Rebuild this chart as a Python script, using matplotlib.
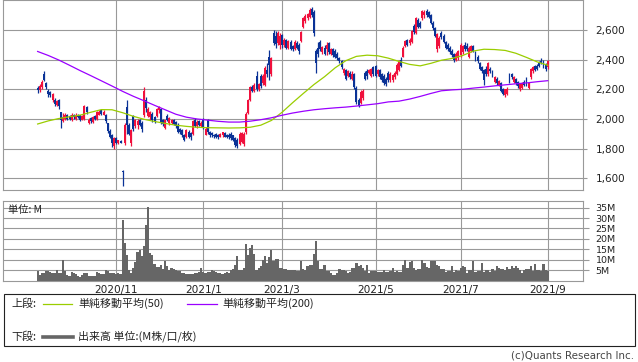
import matplotlib
matplotlib.use("Agg")
import matplotlib.pyplot as plt
import numpy as np
import pandas as pd
from matplotlib.lines import Line2D
from matplotlib.patches import Rectangle

# ---------------- data ----------------
open_ = [
 2210,2195,2215,2300,2240,2190,2180,2125,2130,2095,2125,2045,1985,2000,2025,2020,1990,2030,2000,2030,
 2025,1995,2000,2080,1975,2005,1980,2020,2000,2030,2060,2030,2030,1970,1920,1890,1820,1870,1835,1850,
 1650,1835,2080,1960,1840,2020,1950,1960,1990,1975,2030,2130,2020,2010,2035,2010,2020,2060,2065,1990,
 1940,2020,1970,1975,1995,1980,1960,1935,1925,1890,1875,1915,1905,1900,1990,1950,1985,1955,1990,1895,
 1990,1915,1905,1895,1900,1895,1880,1890,1905,1890,1895,1900,1890,1870,1860,1830,1845,1830,1910,2040,
 2130,2215,2190,2290,2200,2290,2240,2230,2330,2420,2300,2580,2560,2510,2500,2565,2500,2530,2480,2520,
 2490,2470,2515,2500,2525,2620,2660,2680,2690,2740,2720,2460,2480,2520,2450,2480,2470,2510,2440,2470,
 2460,2440,2410,2390,2310,2330,2290,2310,2270,2300,2210,2130,2110,2140,2310,2320,2310,2290,2350,2360,
 2300,2330,2300,2290,2270,2310,2260,2260,2280,2300,2330,2400,2420,2490,2530,2510,2520,2630,2580,2670,
 2650,2680,2700,2730,2720,2700,2650,2610,2470,2490,2580,2560,2520,2500,2480,2460,2440,2400,2410,2430,
 2450,2500,2490,2420,2460,2490,2450,2420,2380,2350,2330,2340,2300,2340,2320,2250,2270,2230,2240,2200,
 2160,2170,2290,2300,2250,2270,2250,2200,2210,2250,2270,2210,2280,2320,2355,2360,2380,2390,2380,2370,
 2350]
high = [
 2225,2235,2260,2320,2250,2200,2190,2175,2140,2130,2135,2050,2040,2040,2035,2030,2040,2035,2040,2035,
 2030,2030,2095,2085,2005,2010,2020,2025,2055,2060,2065,2060,2035,1975,1930,1900,1880,1875,1860,1858,
 1655,1975,2125,1975,1930,2030,2000,2000,2000,1985,2215,2150,2080,2055,2045,2020,2075,2085,2075,2000,
 1995,2035,2010,2000,2000,1985,1970,1940,1930,1900,1935,1925,1915,1995,2005,1990,1995,1985,2005,1945,
 2000,1920,1910,1900,1905,1900,1905,1915,1910,1900,1905,1910,1895,1880,1870,1910,1915,1915,2045,2135,
 2225,2230,2240,2320,2245,2300,2300,2355,2380,2465,2420,2600,2595,2590,2580,2575,2545,2540,2535,2530,
 2500,2530,2525,2510,2590,2690,2705,2715,2745,2755,2735,2475,2520,2530,2490,2500,2520,2520,2480,2480,
 2470,2450,2420,2400,2345,2335,2330,2320,2320,2310,2220,2140,2195,2200,2320,2340,2340,2345,2360,2365,
 2340,2340,2310,2300,2280,2320,2315,2300,2320,2375,2400,2420,2490,2535,2540,2545,2600,2640,2690,2680,
 2660,2735,2735,2740,2730,2710,2660,2620,2580,2560,2590,2570,2525,2510,2490,2470,2445,2450,2465,2510,
 2500,2520,2510,2490,2500,2500,2455,2430,2385,2360,2340,2355,2385,2350,2330,2290,2285,2265,2250,2210,
 2205,2215,2310,2310,2290,2275,2255,2245,2250,2260,2280,2250,2345,2355,2365,2370,2390,2410,2400,2380,
 2400]
low = [
 2175,2185,2205,2255,2200,2150,2145,2115,2085,2090,2070,1940,1980,1990,1990,1990,1985,2000,1995,2005,
 1985,1990,1995,2035,1965,1975,1975,1990,1995,2025,2025,2025,1975,1905,1870,1810,1800,1830,1830,1835,
 1550,1825,1900,1890,1815,1920,1940,1930,1950,1915,2010,2050,2010,1995,1980,1970,2010,2040,1965,1955,
 1930,1985,1960,1965,1960,1940,1905,1900,1880,1850,1870,1870,1860,1895,1945,1940,1950,1945,1935,1890,
 1900,1880,1880,1870,1870,1865,1875,1880,1875,1870,1865,1860,1850,1810,1805,1825,1835,1820,1900,2035,
 2120,2180,2180,2190,2190,2210,2230,2220,2280,2265,2290,2500,2480,2500,2470,2480,2485,2470,2470,2465,
 2460,2465,2470,2440,2520,2610,2650,2665,2680,2690,2560,2310,2420,2460,2440,2430,2430,2440,2430,2420,
 2410,2400,2380,2340,2295,2260,2280,2270,2260,2205,2100,2080,2100,2130,2260,2270,2300,2280,2290,2280,
 2290,2270,2250,2230,2225,2250,2250,2250,2270,2295,2320,2350,2415,2485,2490,2500,2510,2575,2575,2610,
 2610,2670,2680,2690,2680,2640,2600,2550,2450,2480,2540,2510,2470,2460,2440,2420,2385,2390,2400,2420,
 2440,2460,2460,2410,2450,2450,2390,2380,2330,2310,2230,2290,2290,2310,2280,2240,2230,2220,2180,2160,
 2150,2160,2240,2270,2240,2230,2210,2190,2200,2220,2225,2200,2270,2310,2320,2330,2350,2370,2345,2320,
 2340]
close = [
 2195,2225,2250,2265,2215,2170,2160,2165,2100,2120,2085,1990,2010,2030,2000,2000,2030,2010,2030,2015,
 1995,2020,2085,2050,1995,1985,2010,2000,2045,2050,2035,2050,1985,1920,1880,1840,1870,1840,1855,1840,
 1640,1960,1960,1900,1925,1935,1990,1985,1960,1930,2190,2075,2065,2045,1995,1985,2065,2080,1980,1965,
 1990,1995,2005,1995,1965,1950,1915,1915,1895,1860,1925,1880,1875,1985,1955,1980,1960,1975,1945,1935,
 1915,1895,1890,1885,1880,1875,1900,1910,1880,1880,1875,1870,1860,1825,1820,1900,1905,1900,2035,2125,
 2215,2190,2230,2205,2235,2225,2290,2345,2300,2365,2410,2515,2505,2580,2560,2500,2535,2480,2525,2475,
 2470,2520,2480,2455,2585,2680,2695,2705,2735,2700,2580,2380,2440,2470,2485,2440,2500,2450,2475,2430,
 2420,2410,2390,2350,2340,2270,2320,2280,2300,2215,2115,2090,2180,2190,2270,2290,2330,2340,2300,2290,
 2330,2280,2260,2240,2235,2260,2305,2295,2310,2365,2390,2360,2480,2525,2500,2535,2590,2585,2680,2620,
 2620,2725,2720,2700,2690,2650,2610,2560,2570,2545,2550,2520,2480,2470,2450,2430,2395,2440,2460,2500,
 2490,2470,2470,2480,2495,2460,2400,2390,2340,2320,2260,2300,2375,2320,2290,2280,2240,2255,2190,2170,
 2200,2205,2250,2280,2285,2240,2220,2240,2245,2230,2235,2240,2335,2350,2330,2340,2360,2380,2355,2340,
 2390]
volume = [
 4.5,2.8,3.5,3.8,4.8,4.6,4.0,3.8,3.5,5.2,3.6,3.7,10.0,4.8,2.6,2.4,4.1,3.5,3.2,2.1,
 2.0,2.5,3.7,3.5,2.2,2.2,2.1,2.3,4.1,3.8,3.0,3.2,4.9,4.5,3.7,3.6,3.5,3.4,3.5,3.2,
 29.2,18.0,12.1,5.3,3.8,6.0,8.8,13.7,14.7,12.0,16.4,26.8,35.1,13.2,12.1,8.0,6.4,6.4,7.4,5.5,
 9.2,6.8,5.0,6.0,5.7,5.0,4.8,4.5,3.7,3.5,3.2,3.2,3.0,3.3,3.6,3.8,4.0,6.0,4.1,3.9,
 4.4,4.0,5.2,4.6,4.1,3.9,3.5,3.2,3.6,4.1,3.8,5.0,5.7,7.6,11.6,5.2,5.0,6.0,17.5,12.4,
 15.6,16.9,12.8,5.2,6.0,6.8,10.0,11.6,8.4,11.2,14.8,9.2,10.5,10.3,6.2,6.0,5.7,5.7,5.2,5.2,
 5.0,5.2,4.8,4.6,9.2,5.7,4.9,6.8,7.6,7.6,12.8,19.1,9.6,5.7,5.5,7.6,4.8,4.5,3.6,2.9,
 2.9,3.6,5.6,5.2,5.0,4.8,3.6,4.4,6.0,6.0,8.4,6.8,7.6,6.0,4.8,7.6,3.6,4.8,4.8,4.6,
 4.4,4.1,4.0,5.2,4.4,4.4,4.8,6.0,4.1,4.8,4.1,4.1,7.3,10.0,6.0,8.8,9.2,6.0,5.2,5.7,
 5.7,10.0,8.4,6.4,6.0,9.6,9.2,9.2,7.6,6.8,5.7,5.7,4.4,4.8,4.8,6.8,4.1,5.2,4.8,6.0,
 6.8,6.4,3.6,5.2,5.2,9.2,4.1,4.8,4.8,8.4,4.4,5.2,5.2,4.1,5.6,4.8,6.8,6.0,5.7,5.7,
 5.2,6.4,5.7,6.8,6.0,6.8,6.0,5.2,3.6,5.2,5.7,5.7,6.8,4.8,8.0,5.2,5.0,4.8,8.0,5.2,
 4.5]

# moving averages (trading-day index, value)
sma_idx = [0,5,10,15,20,25,30,35,40,45,50,55,60,65,70,75,80,85,90,95,100,105,110,115,120,
           125,130,135,140,145,150,155,160,165,170,175,180,185,190,195,200,205,210,215,220,
           225,230,235,240]
sma50 = [1966,1987,2003,2015,2026,2045,2063,2062,2042,2018,1998,1983,1970,1958,1950,1944,1941,
         1940,1939,1940,1944,1958,1990,2045,2110,2172,2232,2285,2345,2393,2422,2430,2426,2410,
         2388,2368,2358,2375,2396,2408,2428,2458,2470,2468,2462,2443,2415,2385,2362]
sma200 = [2455,2428,2397,2362,2326,2292,2257,2222,2186,2153,2123,2092,2062,2032,2012,2000,1992,
          1984,1979,1979,1985,1995,2008,2025,2040,2052,2062,2069,2075,2080,2087,2095,2103,2115,
          2120,2134,2152,2172,2190,2196,2200,2208,2215,2223,2230,2237,2243,2251,2258]

price_ticks = [1600, 1800, 2000, 2200, 2400, 2600]
vol_ticks = [5, 10, 15, 20, 25, 30, 35]
month_labels = ["2020/11", "2021/1", "2021/3", "2021/5", "2021/7", "2021/9"]
holidays = ["2020-09-21","2020-09-22","2020-11-03","2020-11-23","2020-12-31","2021-01-01",
            "2021-01-11","2021-02-11","2021-02-23","2021-04-29","2021-05-03","2021-05-04",
            "2021-05-05","2021-07-22","2021-07-23","2021-08-09"]

# ---------------- figure ----------------
n = len(close)
for arr in (open_, high, low, volume):
    if len(arr) != n:
        raise ValueError("length mismatch %d vs %d" % (len(arr), n))

dates = pd.bdate_range("2020-09-08", "2021-09-01")
dates = dates[~dates.isin(pd.to_datetime(holidays))]
dates = dates[:n]
tick_pos = []
for lab in month_labels:
    y, m = lab.split("/")
    start = pd.Timestamp(int(y), int(m), 1)
    tick_pos.append(int(np.argmax(dates >= start)) if (dates >= start).any() else n - 1)

W, H = 638, 362
fig = plt.figure(figsize=(W / 100, H / 100), dpi=100)
fx = lambda px: px / W
fy = lambda py: 1 - py / H

GRID = "#999999"
RED = "#f0103c"
BLUE = "#0a3296"
JP = ["Noto Sans CJK JP", "DejaVu Sans"]
TXT = "#222222"

ax = fig.add_axes([fx(3), fy(190.3), fx(583) - fx(3), fy(0.3) - fy(190.3)])
axv = fig.add_axes([fx(3), fy(280.7), fx(583) - fx(3), fy(201.3) - fy(280.7)])

x = np.arange(n)
o = np.array(open_, float); c = np.array(close, float)
hi = np.array(high, float); lo = np.array(low, float)
up = c >= o
cols = np.where(up, RED, BLUE)
bottom = np.minimum(o, c)
height = np.maximum(np.abs(c - o), 5)

ax.vlines(x, lo, hi, colors=cols, lw=0.9, zorder=2)
ax.bar(x, height, bottom=bottom, width=0.9, color=cols, linewidth=0, zorder=2)
ax.plot(sma_idx, sma50, color="#9acd00", lw=0.9, zorder=3)
ax.plot(sma_idx, sma200, color="#9a00ff", lw=0.9, zorder=3)

xlim = (-16.3, 256.6)
ax.set_xlim(*xlim)
ax.set_ylim(1519, 2800)
ax.set_xticks(tick_pos)
ax.set_xticklabels([])
ax.tick_params(axis="x", length=0)
ax.yaxis.tick_right()
ax.set_yticks(price_ticks)
ax.set_yticklabels(["{:,}".format(v) for v in price_ticks])
ax.tick_params(axis="y", length=3, width=0.8, color=GRID, labelsize=7.5,
               labelcolor=TXT, pad=6)
ax.grid(True, color=GRID, lw=0.8, zorder=0)
ax.set_axisbelow(True)
for s in ax.spines.values():
    s.set_color(GRID); s.set_linewidth(0.8)

axv.bar(x, volume, width=1.0, color="#666666", linewidth=0, zorder=2)
axv.set_xlim(*xlim)
axv.set_ylim(0, 38)
axv.set_xticks(tick_pos)
axv.set_xticklabels(month_labels)
axv.tick_params(axis="x", length=0, labelsize=7.6, labelcolor=TXT, pad=3)
axv.yaxis.tick_right()
axv.set_yticks(vol_ticks)
axv.set_yticklabels(["%dM" % v for v in vol_ticks])
axv.tick_params(axis="y", length=4, width=0.8, color=GRID, labelsize=6.8,
                labelcolor=TXT, pad=5)
axv.grid(True, color=GRID, lw=0.8, zorder=0)
axv.set_axisbelow(True)
for s in axv.spines.values():
    s.set_color(GRID); s.set_linewidth(0.8)

fig.text(fx(8), fy(210), "単位: M", fontsize=7.4, family=JP, ha="left", va="center", color=TXT)

# legend box
fig.patches.append(Rectangle((fx(3.5), fy(345.5)), fx(634.5) - fx(3.5), fy(293.5) - fy(345.5),
                             transform=fig.transFigure, fill=False, edgecolor=TXT, lw=0.8))
fs_leg = 7.9
fig.text(fx(11), fy(303.5), "上段:", fontsize=fs_leg, family=JP, ha="left", va="center", color=TXT)
fig.lines.append(Line2D([fx(43), fx(72)], [fy(303.5), fy(303.5)], transform=fig.transFigure,
                        color="#9acd00", lw=0.9))
fig.text(fx(78), fy(303.5), "単純移動平均(50)", fontsize=fs_leg, family=JP, ha="left", va="center", color=TXT)
fig.lines.append(Line2D([fx(187), fx(217)], [fy(303.5), fy(303.5)], transform=fig.transFigure,
                        color="#9a00ff", lw=0.9))
fig.text(fx(222), fy(303.5), "単純移動平均(200)", fontsize=fs_leg, family=JP, ha="left", va="center", color=TXT)
fig.text(fx(11), fy(336.5), "下段:", fontsize=fs_leg, family=JP, ha="left", va="center", color=TXT)
fig.lines.append(Line2D([fx(43), fx(73)], [fy(336.5), fy(336.5)], transform=fig.transFigure,
                        color="#666666", lw=2.6))
fig.text(fx(78), fy(336.5), "出来高 単位:(M株/口/枚)", fontsize=fs_leg, family=JP, ha="left", va="center", color=TXT)

fig.text(fx(634), fy(356), "(c)Quants Research Inc.", fontsize=7.4, ha="right", va="center", color="#444444")

fig.savefig("out.png", dpi=100)
